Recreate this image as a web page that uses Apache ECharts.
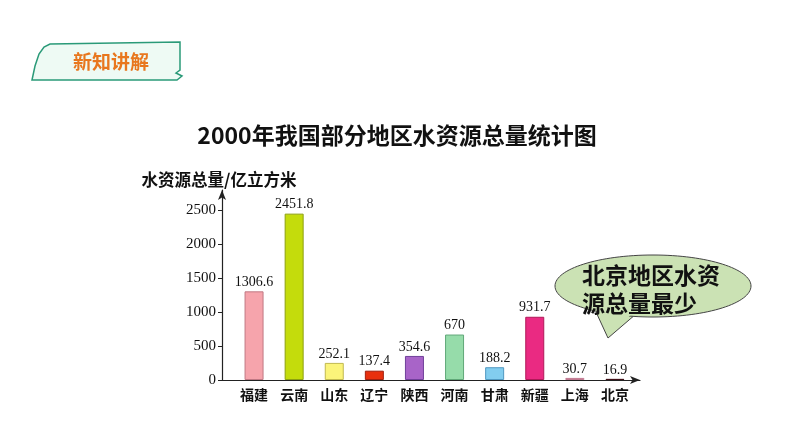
<!DOCTYPE html>
<html>
<head>
<meta charset="utf-8">
<script src="https://cdn.jsdelivr.net/npm/echarts@6/dist/echarts.min.js"></script>
<style>
html,body{margin:0;padding:0;background:#fff;}
#c{width:794px;height:447px;}
</style>
</head>
<body>
<div id="c"></div>
<script>
// ---- data ----
var categories = ['福建','云南','山东','辽宁','陕西','河南','甘肃','新疆','上海','北京'];
var values = [1306.6, 2451.8, 252.1, 137.4, 354.6, 670, 188.2, 931.7, 30.7, 16.9];
var valueLabels = ['1306.6','2451.8','252.1','137.4','354.6','670','188.2','931.7','30.7','16.9'];
var yTicks = [0, 500, 1000, 1500, 2000, 2500];
var titleText = '2000年我国部分地区水资源总量统计图';
var yName = '水资源总量/亿立方米';
var badgeText = '新知讲解';
var bubbleLines = ['北京地区水资', '源总量最少'];

// ---- styles ----
var barColors = ['#f6a4ac','#c4dc0c','#fbf47a','#e8300e','#a864c8','#96dcaa','#82cdef','#ea2a82','#f4b8c8','#6a2a3a'];
var barBorders = ['#c07884','#8ca010','#c0b850','#a02010','#70409a','#60a878','#5098c0','#b01858','#c07890','#401018'];
var cjk = '"Noto Sans CJK SC", "Noto Sans", sans-serif';
var serif = '"Liberation Serif", "DejaVu Serif", serif';

var chart = echarts.init(document.getElementById('c'), null, {renderer:'canvas'});

var barData = values.map(function(v, i){
  return {value: v, itemStyle: {color: barColors[i], borderColor: barBorders[i], borderWidth: 1}};
});

var option = {
  backgroundColor: '#ffffff',
  animation: false,
  title: {
    text: titleText,
    left: 'center',
    top: 119,
    textStyle: {fontFamily: cjk, fontWeight: 'bold', fontSize: 23, color: '#111'}
  },
  grid: [
    {left: 234, top: 190, width: 401, height: 190},
    {left: 222, top: 190, width: 418, height: 190}
  ],
  xAxis: [
    {
      type: 'category', gridIndex: 0, data: categories,
      axisLine: {show: false}, axisTick: {show: false},
      axisLabel: {fontFamily: cjk, fontWeight: 'bold', fontSize: 14, color: '#111', margin: 8}
    },
    {
      type: 'value', gridIndex: 1, min: 0, max: 1,
      axisLine: {show: true, lineStyle: {color: '#222', width: 1.2}, symbol: ['none','arrow'], symbolSize: [6, 10]},
      axisTick: {show: false}, axisLabel: {show: false}, splitLine: {show: false}
    }
  ],
  yAxis: [
    {
      type: 'value', gridIndex: 0, min: 0, max: 2800,
      axisLine: {show: false}, axisTick: {show: false}, axisLabel: {show: false}, splitLine: {show: false}
    },
    {
      type: 'value', gridIndex: 1, min: 0, max: 2800, interval: 500,
      name: yName, nameLocation: 'end', nameGap: 2,
      nameTextStyle: {fontFamily: cjk, fontWeight: 'bold', fontSize: 16.5, color: '#111', align: 'center', padding: [0, 6, 0, 0]},
      axisLine: {show: true, lineStyle: {color: '#222', width: 1.2}, symbol: ['none','arrow'], symbolSize: [6, 10]},
      axisTick: {show: true, length: 4, lineStyle: {color: '#222'}},
      axisLabel: {
        fontFamily: serif, fontSize: 15, color: '#111', margin: 6, showMaxLabel: false,
        formatter: function(v){ return yTicks.indexOf(v) >= 0 ? String(v) : ''; }
      },
      splitLine: {show: false}
    }
  ],
  series: [
    {
      type: 'bar', xAxisIndex: 0, yAxisIndex: 0,
      data: barData, barWidth: 19,
      label: {
        show: true, position: 'top', distance: 2,
        fontFamily: serif, fontSize: 14, color: '#111',
        formatter: function(p){ return valueLabels[p.dataIndex]; }
      }
    }
  ],
  graphic: [
    {
      type: 'polygon',
      shape: {points: [[32,80],[35,66],[39,54],[44,47],[50,44],[180,42],[180,70],[176,73],[182,76],[177,80]], smooth: 0},
      style: {fill: '#eefaf4', stroke: '#2a9a78', lineWidth: 1.5}
    },
    {
      type: 'text', left: 73, top: 52,
      style: {text: badgeText, fontFamily: cjk, fontWeight: 'bold', fontSize: 19, fill: '#e8771e'}
    },
    {
      type: 'polygon',
      shape: {points: [[596,312],[608,338],[636,314]]},
      style: {fill: '#cbe2b4', stroke: '#444', lineWidth: 1}
    },
    {
      type: 'ellipse',
      shape: {cx: 653, cy: 286, rx: 98, ry: 31},
      style: {fill: '#cbe2b4', stroke: '#444', lineWidth: 1}
    },
    {
      type: 'polygon',
      shape: {points: [[598,310],[608,336],[634,312]]},
      style: {fill: '#cbe2b4', stroke: null}
    },
    {
      type: 'text', left: 582, top: 264,
      style: {text: bubbleLines[0], fontFamily: cjk, fontWeight: 'bold', fontSize: 23, fill: '#111'}
    },
    {
      type: 'text', left: 582, top: 292,
      style: {text: bubbleLines[1], fontFamily: cjk, fontWeight: 'bold', fontSize: 23, fill: '#111'}
    }
  ]
};
chart.setOption(option);
</script>
</body>
</html>
